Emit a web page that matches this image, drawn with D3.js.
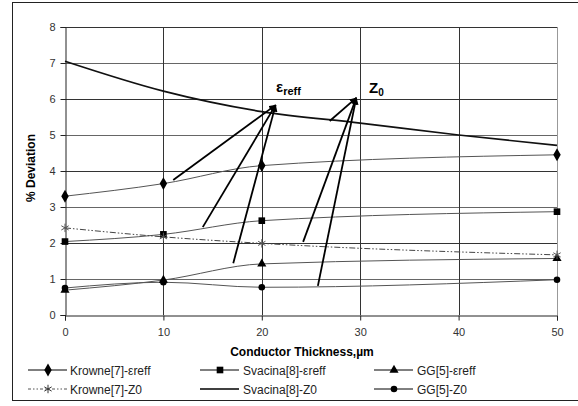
<!DOCTYPE html>
<html>
<head>
<meta charset="utf-8">
<script src="https://cdn.jsdelivr.net/npm/d3@7"></script>
<style>
  body { margin: 0; background: #fff; }
  svg text { font-family: "Liberation Sans", Arial, sans-serif; }
</style>
</head>
<body>
<div id="chart"></div>
<script>
// values
const thickness = [0, 10, 20, 50];
const krowneEreff = [3.3, 3.65, 4.15, 4.45];
const svacinaEreff = [2.04, 2.24, 2.62, 2.87];
const ggEreff = [0.69, 0.97, 1.42, 1.57];
const krowneZ0 = [2.42, 2.17, 1.99, 1.67];
const ggZ0 = [0.75, 0.91, 0.77, 0.98];
const svacinaZ0X = [0, 10, 20, 30, 40, 50];
const svacinaZ0 = [7.05, 6.22, 5.65, 5.33, 5.0, 4.71];

const xTicks = [0, 10, 20, 30, 40, 50];
const yTicks = [0, 1, 2, 3, 4, 5, 6, 7, 8];

// annotation arrows: [fromX, fromY, toX, toY] in data units
const ereffArrows = [[11.0, 3.75, 21.4, 5.83], [14.0, 2.44, 21.4, 5.83], [17.1, 1.44, 21.4, 5.83]];
const z0Arrows = [[26.9, 5.39, 29.6, 6.03], [24.2, 2.03, 29.6, 6.03], [25.7, 0.81, 29.6, 6.03]];

const width = 578, height = 406;
const svg = d3.select('#chart').append('svg')
    .attr('width', width)
    .attr('height', height);

// outer frame
svg.append('rect')
    .attr('x', 12.5).attr('y', 2.5)
    .attr('width', 570).attr('height', 398)
    .attr('fill', 'none').attr('stroke', '#222').attr('stroke-width', 1);

const x = d3.scaleLinear().domain([0, 50]).range([65, 557]);
const y = d3.scaleLinear().domain([0, 8]).range([315, 27]);

// grid
svg.append('g').selectAll('line')
    .data(yTicks.slice(1))
    .enter().append('line')
    .attr('x1', x(0)).attr('x2', x(50))
    .attr('y1', d => Math.round(y(d)) + 0.5).attr('y2', d => Math.round(y(d)) + 0.5)
    .attr('stroke', d => d % 2 ? '#666' : '#333');

svg.append('g').selectAll('line')
    .data(xTicks.slice(1))
    .enter().append('line')
    .attr('x1', d => Math.round(x(d)) + 0.5).attr('x2', d => Math.round(x(d)) + 0.5)
    .attr('y1', y(0)).attr('y2', y(8))
    .attr('stroke', d => d === 50 ? '#999' : '#333');

// axes
const yAxis = svg.append('g')
    .attr('transform', `translate(${Math.round(x(0)) + 0.5},0)`)
    .call(d3.axisLeft(y).tickValues(yTicks).tickSize(5).tickPadding(5));
const xAxis = svg.append('g')
    .attr('transform', `translate(0,${Math.round(y(0)) + 0.5})`)
    .call(d3.axisBottom(x).tickValues(xTicks).tickSize(5).tickPadding(8));
[yAxis, xAxis].forEach(g => {
    g.select('.domain').attr('stroke', '#222');
    g.selectAll('.tick line').attr('stroke', '#222');
    g.selectAll('.tick text').attr('font-size', 11).attr('fill', '#333')
        .style('font-family', '"Liberation Sans", Arial, sans-serif');
});

// axis titles
svg.append('text')
    .attr('transform', `translate(35,168) rotate(-90)`)
    .attr('text-anchor', 'middle')
    .attr('font-size', 12).attr('font-weight', 'bold')
    .text('% Deviation');
svg.append('text')
    .attr('x', 302).attr('y', 356)
    .attr('text-anchor', 'middle')
    .attr('font-size', 12).attr('font-weight', 'bold')
    .text('Conductor Thickness,µm');

// series
const line = d3.line().curve(d3.curveMonotoneX);
function drawSeries(xs, ys, stroke, sw, dash) {
    svg.append('path')
        .attr('d', line(xs.map((v, i) => [x(v), y(ys[i])])))
        .attr('fill', 'none')
        .attr('stroke', stroke)
        .attr('stroke-width', sw)
        .attr('stroke-dasharray', dash || null);
}

drawSeries(thickness, krowneEreff, '#555', 1);
drawSeries(thickness, svacinaEreff, '#555', 1);
drawSeries(thickness, ggEreff, '#555', 1);
drawSeries(thickness, krowneZ0, '#444', 1, '6,2,1.5,2,1.5,2');
drawSeries(thickness, ggZ0, '#555', 1);
drawSeries(svacinaZ0X, svacinaZ0, '#111', 1.7);

const symbols = {
    diamond: d3.symbol().type(d3.symbolDiamond).size(48),
    square: d3.symbol().type(d3.symbolSquare).size(44),
    triangle: d3.symbol().type(d3.symbolTriangle).size(36),
    circle: d3.symbol().type(d3.symbolCircle).size(34),
    star: d3.symbol().type(d3.symbolAsterisk).size(50)
};

function drawMarkers(xs, ys, sym) {
    svg.append('g').selectAll('path')
        .data(xs)
        .enter().append('path')
        .attr('transform', (d, i) => `translate(${x(d)},${y(ys[i])})`)
        .attr('d', symbols[sym])
        .attr('fill', sym === 'star' ? 'none' : '#000')
        .attr('stroke', sym === 'star' ? '#555' : 'none')
        .attr('stroke-width', 1);
}

drawMarkers(thickness, krowneEreff, 'diamond');
drawMarkers(thickness, svacinaEreff, 'square');
drawMarkers(thickness, ggEreff, 'triangle');
drawMarkers(thickness, krowneZ0, 'star');
drawMarkers(thickness, ggZ0, 'circle');

// arrows
svg.append('defs').append('marker')
    .attr('id', 'head')
    .attr('viewBox', '0 0 10 10')
    .attr('refX', 9).attr('refY', 5)
    .attr('markerWidth', 4).attr('markerHeight', 4)
    .attr('markerUnits', 'strokeWidth')
    .attr('orient', 'auto')
    .append('path').attr('d', 'M0,0 L10,5 L0,10 Z').attr('fill', '#000');

svg.append('g').selectAll('line')
    .data(ereffArrows.concat(z0Arrows))
    .enter().append('line')
    .attr('x1', d => x(d[0])).attr('y1', d => y(d[1]))
    .attr('x2', d => x(d[2])).attr('y2', d => y(d[3]))
    .attr('stroke', '#000').attr('stroke-width', 1.8)
    .attr('marker-end', 'url(#head)');

// labels
const eLabel = svg.append('text')
    .attr('x', 276).attr('y', 92)
    .attr('font-size', 15).attr('font-weight', 'bold');
eLabel.append('tspan').text('ε');
eLabel.append('tspan').attr('dy', 3).attr('font-size', 11).text('reff');

const zLabel = svg.append('text')
    .attr('x', 369).attr('y', 93)
    .attr('font-size', 15).attr('font-weight', 'bold');
zLabel.append('tspan').text('Z');
zLabel.append('tspan').attr('dy', 3).attr('font-size', 10).text('0');

// legend
const legendItems = [
    { name: 'Krowne[7]-εreff', sym: 'diamond', col: 0, row: 0 },
    { name: 'Svacina[8]-εreff', sym: 'square', col: 1, row: 0 },
    { name: 'GG[5]-εreff', sym: 'triangle', col: 2, row: 0 },
    { name: 'Krowne[7]-Z0', sym: 'star', col: 0, row: 1, dash: '3,2,1.5,2,1.5,2' },
    { name: 'Svacina[8]-Z0', sym: null, col: 1, row: 1 },
    { name: 'GG[5]-Z0', sym: 'circle', col: 2, row: 1 }
];
const colX = [28, 200, 374];
const rowY = [370, 389];

const lg = svg.append('g').selectAll('g')
    .data(legendItems)
    .enter().append('g')
    .attr('transform', d => `translate(${colX[d.col]},${rowY[d.row]})`);
lg.append('line')
    .attr('x1', 0).attr('x2', 39).attr('y1', 0).attr('y2', 0)
    .attr('stroke', d => d.dash ? '#555' : '#000')
    .attr('stroke-width', d => d.sym ? 1 : 1.5)
    .attr('stroke-dasharray', d => d.dash || null);
lg.filter(d => d.sym).append('path')
    .attr('transform', 'translate(20,0)')
    .attr('d', d => symbols[d.sym]())
    .attr('fill', d => d.sym === 'star' ? 'none' : '#000')
    .attr('stroke', d => d.sym === 'star' ? '#333' : 'none');
lg.append('text')
    .attr('x', d => d.col === 0 ? 42 : 43).attr('y', 4.5)
    .attr('font-size', 12).attr('fill', '#222')
    .text(d => d.name);
</script>
</body>
</html>
